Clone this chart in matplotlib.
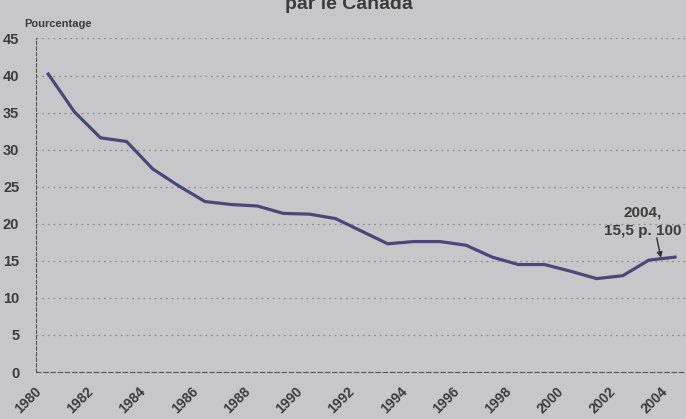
import matplotlib.pyplot as plt
import matplotlib.transforms as mtransforms

annees = list(range(1980, 2005))
pourcentage = [40.2, 35.1, 31.6, 31.1, 27.4, 25.1, 23.0, 22.6, 22.4, 21.4, 21.3, 20.7,
               19.0, 17.3, 17.6, 17.6, 17.1, 15.5, 14.5, 14.5, 13.6, 12.6, 13.0, 15.1, 15.5]
etiquettes_x = list(range(1980, 2005, 2))
etiquettes_y = list(range(0, 50, 5))

fond = "#c7c7c9"
texte = "#3c3c3c"
plt.rcParams['font.family'] = ['Liberation Sans', 'DejaVu Sans']
plt.rcParams['font.weight'] = 'bold'

fig = plt.figure(figsize=(6.86, 4.19), dpi=100, facecolor=fond)
ax = fig.add_axes([36 / 686, 1 - 372 / 419, 1 - 36 / 686, (372 - 38.5) / 419])
ax.set_facecolor(fond)

ax.plot(annees, pourcentage, color="#48487a", lw=2.3, solid_joinstyle='round')

ax.set_xlim(1979.53, 2004.42)
ax.set_ylim(0, 45)
ax.set_yticks(etiquettes_y)
ax.set_xticks(etiquettes_x)
ax.set_xticklabels([str(a) for a in etiquettes_x], rotation=45, ha='right', va='top',
                   rotation_mode='anchor', fontsize=10, color=texte)
ax.set_yticklabels([str(v) for v in etiquettes_y], fontsize=10.5, color=texte)
ax.tick_params(length=0)
ax.tick_params(axis='x', pad=9)
ax.tick_params(axis='y', pad=12)

# decale les annees vers la gauche comme dans l'original
decalage = mtransforms.ScaledTranslation(-14 / 100, 0, fig.dpi_scale_trans)
for lab in ax.get_xticklabels():
    lab.set_transform(lab.get_transform() + decalage)

ax.grid(axis='y', linestyle=(0, (1.5, 3)), color="#8c8c8c", lw=0.9)
ax.spines['top'].set_visible(False)
ax.spines['right'].set_visible(False)
ax.spines['left'].set_linestyle((0, (3, 2)))
ax.spines['bottom'].set_linestyle((0, (4, 2.5)))
ax.spines['left'].set_color("#555555")
ax.spines['bottom'].set_color("#555555")

ax.annotate("", xy=(2003.46, 15.4), xytext=(2003.3, 18.1),
            arrowprops=dict(arrowstyle='-|>', color="#333333", lw=1, shrinkA=0, shrinkB=0,
                            mutation_scale=8))
ax.text(2002.75, 20.3, "2004,\n15,5 p. 100", ha='center', va='center', fontsize=11,
        color=texte, linespacing=1.4)

fig.text(24 / 686, 1 - 27 / 419, "Pourcentage", fontsize=8, color=texte, va='baseline')
fig.text(349 / 686, 1 - 9 / 419, "par le Canada", fontsize=14, color=texte,
         ha='center', va='baseline')

fig.savefig("out.png", dpi=100, facecolor=fond)
